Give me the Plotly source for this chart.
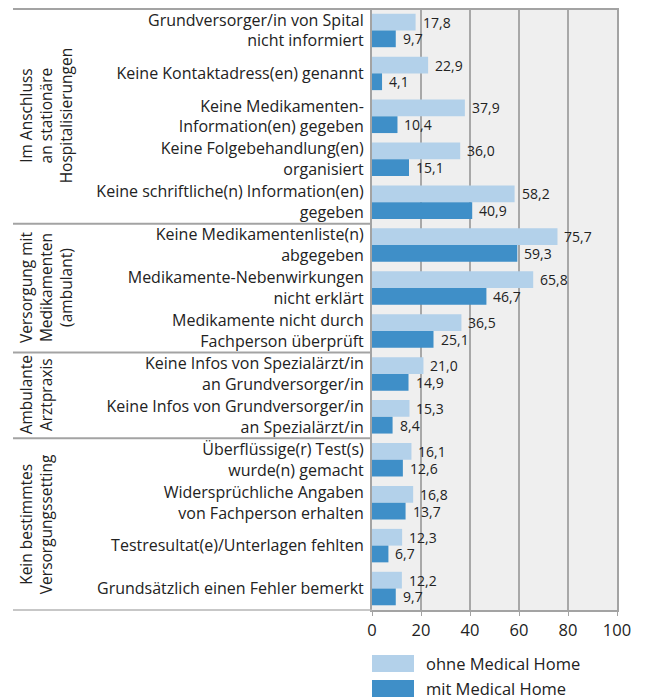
import plotly.graph_objects as go

categories = [
    "Grundversorger/in von Spital<br>nicht informiert",
    "Keine Kontaktadress(en) genannt",
    "Keine Medikamenten-<br>Information(en) gegeben",
    "Keine Folgebehandlung(en)<br>organisiert",
    "Keine schriftliche(n) Information(en)<br>gegeben",
    "Keine Medikamentenliste(n)<br>abgegeben",
    "Medikamente-Nebenwirkungen<br>nicht erklärt",
    "Medikamente nicht durch<br>Fachperson überprüft",
    "Keine Infos von Spezialärzt/in<br>an Grundversorger/in",
    "Keine Infos von Grundversorger/in<br>an Spezialärzt/in",
    "Überflüssige(r) Test(s)<br>wurde(n) gemacht",
    "Widersprüchliche Angaben<br>von Fachperson erhalten",
    "Testresultat(e)/Unterlagen fehlten",
    "Grundsätzlich einen Fehler bemerkt",
]
ohne_mh = [17.8, 22.9, 37.9, 36.0, 58.2, 75.7, 65.8, 36.5, 21.0, 15.3, 16.1, 16.8, 12.3, 12.2]
mit_mh = [9.7, 4.1, 10.4, 15.1, 40.9, 59.3, 46.7, 25.1, 14.9, 8.4, 12.6, 13.7, 6.7, 9.7]

groups = [
    "Im Anschluss<br>an stationäre<br>Hospitalisierungen",
    "Versorgung mit<br>Medikamenten<br>(ambulant)",
    "Ambulante<br>Arztpraxis",
    "Kein bestimmtes<br>Versorgungssetting",
]
group_sizes = [5, 3, 2, 4]

series_names = ["ohne Medical Home", "mit Medical Home"]
colors = ["#b3d1ea", "#3f8fc8"]
x_ticks = [0, 20, 40, 60, 80, 100]

FONT = "Open Sans"
OFF = 8  # page body margin offset
W, H = 647 - OFF, 700 - OFF
ML, MT = 372 - OFF, 9 - OFF
MR = W - (617 - OFF)
MB = H - (610 - OFF)
pw = W - ML - MR
ph = H - MT - MB

pos = list(range(len(categories)))
BARGAP = 0.22
half = (1 - BARGAP) / 4

fig = go.Figure()
for name, vals, col in zip(series_names, [ohne_mh, mit_mh], colors):
    fig.add_trace(go.Bar(
        y=pos, x=vals, orientation="h", name=name,
        marker=dict(color=col, line=dict(width=0)),
        showlegend=False, hoverinfo="x+y",
    ))

def px_to_paper_x(px):
    return (px - OFF - ML) / pw

def px_to_paper_y(py):
    return (H - MB - (py - OFF)) / ph

shapes = []
annotations = []
grey = "#a3a3a3"

# value labels
for vals, sgn in zip([ohne_mh, mit_mh], [-1, 1]):
    for p, v in zip(pos, vals):
        annotations.append(dict(
            text=f"{v:.1f}".replace(".", ","), x=v, y=p + sgn * half,
            xref="x", yref="y", xanchor="left", yanchor="middle", xshift=6,
            showarrow=False, borderpad=0,
            font=dict(family=FONT, size=14, color="#222222")))

left_x = px_to_paper_x(13)
shapes.append(dict(type="line", xref="paper", yref="paper", x0=left_x, x1=1, y0=1, y1=1,
                   line=dict(color=grey, width=2)))
shapes.append(dict(type="line", xref="paper", yref="paper", x0=left_x, x1=0, y0=0, y1=0,
                   line=dict(color="#b5b5b5", width=1.5)))
start = 0
for g, n in zip(groups, group_sizes):
    end = start + n
    if end < len(categories):
        shapes.append(dict(type="line", xref="paper", yref="y", x0=left_x, x1=0,
                           y0=end - 0.5, y1=end - 0.5, line=dict(color=grey, width=2)))
    annotations.append(dict(text=g, xref="paper", yref="y", x=left_x, y=(start + end - 1) / 2,
                            xanchor="left", yanchor="middle", textangle=-90, showarrow=False,
                            font=dict(family=FONT, size=15.5, color="#222222")))
    start = end

leg_y = [(655, 672), (680, 697)]
for name, col, (y0, y1) in zip(series_names, colors, leg_y):
    shapes.append(dict(type="rect", xref="paper", yref="paper",
                       x0=px_to_paper_x(372), x1=px_to_paper_x(414),
                       y0=px_to_paper_y(y1), y1=px_to_paper_y(y0),
                       fillcolor=col, line=dict(width=0)))
    annotations.append(dict(text=name, xref="paper", yref="paper",
                            x=px_to_paper_x(424), y=px_to_paper_y((y0 + y1) / 2),
                            xanchor="left", yanchor="middle", showarrow=False,
                            font=dict(family=FONT, size=16.5, color="#222222")))

fig.update_layout(
    width=W, height=H,
    margin=dict(l=ML, r=MR, t=MT, b=MB, pad=0, autoexpand=False),
    paper_bgcolor="white", plot_bgcolor="#efefef",
    barmode="group", bargap=BARGAP, bargroupgap=0,
    separators=",.",
    font=dict(family=FONT, size=15, color="#222222"),
    shapes=shapes, annotations=annotations,
    showlegend=False,
)
fig.update_xaxes(
    range=[0, 100], tickvals=x_ticks, ticks="outside", ticklen=4, tickcolor=grey,
    showgrid=True, gridcolor="#a8a8a8", gridwidth=1.5, automargin=False,
    showline=True, linecolor=grey, linewidth=2, mirror=True,
    tickfont=dict(family=FONT, size=16.5, color="#222222"), zeroline=False,
)
fig.update_yaxes(
    range=[len(categories) - 0.5, -0.5], tickvals=pos, ticktext=categories,
    ticks="", showgrid=False, showline=True, linecolor=grey, linewidth=2, mirror=True,
    ticklabelstandoff=3, automargin=False,
    tickfont=dict(family=FONT, size=16, color="#222222"), zeroline=False,
)

fig.write_html("out.html")
